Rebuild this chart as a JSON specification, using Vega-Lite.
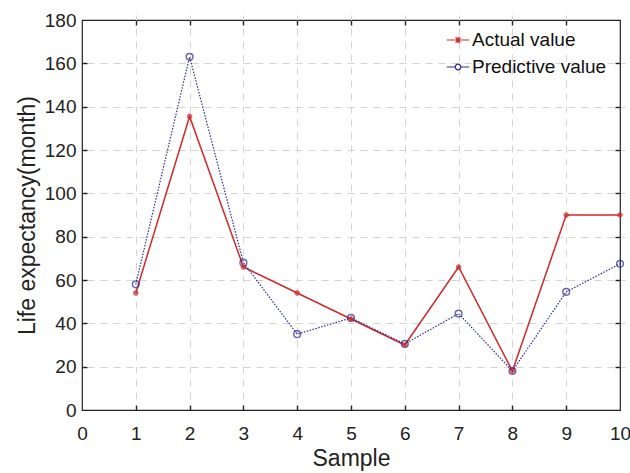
{
  "$schema": "https://vega.github.io/schema/vega-lite/v6.json",
  "width": 538,
  "height": 390,
  "autosize": {"type": "none"},
  "padding": {"left": 82, "top": 20, "right": 10, "bottom": 63},
  "background": "white",
  "config": {
    "view": {"stroke": "#222", "strokeWidth": 1.2},
    "font": "Liberation Sans",
    "axis": {
      "labelFont": "Liberation Sans",
      "titleFont": "Liberation Sans",
      "labelFontSize": 19,
      "titleFontSize": 23,
      "titleFontWeight": "normal",
      "labelColor": "#222",
      "titleColor": "#222",
      "domain": false,
      "tickColor": "#222",
      "tickWidth": 1.4,
      "tickSize": 5,
      "offset": -5,
      "labelFlush": false,
      "gridColor": "#d4d4d4",
      "gridDash": [7, 6],
      "gridWidth": 1
    }
  },
  "data": {
    "values": [
      {"sample": 1, "value": 54, "series": "Actual value"},
      {"sample": 2, "value": 135.5, "series": "Actual value"},
      {"sample": 3, "value": 66, "series": "Actual value"},
      {"sample": 4, "value": 54, "series": "Actual value"},
      {"sample": 5, "value": 42, "series": "Actual value"},
      {"sample": 6, "value": 30, "series": "Actual value"},
      {"sample": 7, "value": 66, "series": "Actual value"},
      {"sample": 8, "value": 18, "series": "Actual value"},
      {"sample": 9, "value": 90, "series": "Actual value"},
      {"sample": 10, "value": 90, "series": "Actual value"},
      {"sample": 1, "value": 58, "series": "Predictive value"},
      {"sample": 2, "value": 163, "series": "Predictive value"},
      {"sample": 3, "value": 68, "series": "Predictive value"},
      {"sample": 4, "value": 35, "series": "Predictive value"},
      {"sample": 5, "value": 42.5, "series": "Predictive value"},
      {"sample": 6, "value": 30.5, "series": "Predictive value"},
      {"sample": 7, "value": 44.5, "series": "Predictive value"},
      {"sample": 8, "value": 18, "series": "Predictive value"},
      {"sample": 9, "value": 54.5, "series": "Predictive value"},
      {"sample": 10, "value": 67.5, "series": "Predictive value"}
    ]
  },
  "resolve": {"axis": {"x": "independent", "y": "independent"}},
  "layer": [
    {
      "transform": [{"filter": "datum.series === 'Actual value'"}],
      "mark": {"type": "line", "strokeWidth": 1.5},
      "encoding": {
        "x": {"field": "sample", "type": "quantitative", "scale": {"domain": [0, 10]},
              "axis": {"title": "Sample", "grid": true, "values": [0,1,2,3,4,5,6,7,8,9,10], "labelPadding": 14, "titlePadding": 4,
                       "gridOpacity": {"condition": {"test": "datum.value === 0 || datum.value === 10", "value": 0}, "value": 1},
                       "tickOpacity": {"condition": {"test": "datum.value === 0 || datum.value === 10", "value": 0}, "value": 1}}},
        "y": {"field": "value", "type": "quantitative", "scale": {"domain": [0, 180]},
              "axis": {"title": "Life expectancy(month)", "grid": true, "values": [0,20,40,60,80,100,120,140,160,180], "labelPadding": 6, "titlePadding": 5,
                       "gridOpacity": {"condition": {"test": "datum.value === 0 || datum.value === 180", "value": 0}, "value": 1},
                       "tickOpacity": {"condition": {"test": "datum.value === 0 || datum.value === 180", "value": 0}, "value": 1}}},
        "color": {"field": "series", "type": "nominal",
                  "scale": {"domain": ["Actual value", "Predictive value"], "range": ["#cf2a2a", "#2a2a92"]},
                  "legend": {"title": null, "orient": "none", "legendX": 364, "legendY": 8,
                             "labelFontSize": 19, "labelFont": "Liberation Sans", "labelColor": "#111",
                             "symbolSize": 500, "symbolStrokeWidth": 1.2, "rowPadding": 5, "labelOffset": 2,
                             "encode": {"symbols": {"update": {
                               "shape": {"signal": "datum.value === 'Actual value' ? 'M-1,0L1,0M-0.3,0L0.3,0M0,-0.3L0,0.3M-0.22,-0.22L0.22,0.22M-0.22,0.22L0.22,-0.22' : 'M-1,0L-0.25,0M0.25,0L1,0M0.25,0A0.25,0.25 0 1 1 -0.25,0A0.25,0.25 0 1 1 0.25,0'"},
                               "fill": {"value": "transparent"}
                             }}}}}
      }
    },
    {
      "transform": [{"filter": "datum.series === 'Predictive value'"}],
      "mark": {"type": "line", "strokeWidth": 1.2, "strokeDash": [1.5, 1.5]},
      "encoding": {
        "x": {"field": "sample", "type": "quantitative", "axis": null},
        "y": {"field": "value", "type": "quantitative", "axis": null},
        "color": {"field": "series", "type": "nominal"}
      }
    },
    {
      "transform": [{"filter": "datum.series === 'Predictive value'"}],
      "mark": {"type": "point", "filled": false, "shape": "circle", "size": 45, "strokeWidth": 1.5},
      "encoding": {
        "x": {"field": "sample", "type": "quantitative", "axis": null},
        "y": {"field": "value", "type": "quantitative", "axis": null},
        "color": {"field": "series", "type": "nominal"}
      }
    },
    {
      "transform": [{"filter": "datum.series === 'Actual value'"}],
      "mark": {"type": "point", "filled": false, "shape": "M-1,0L1,0M0,-1L0,1M-0.7,-0.7L0.7,0.7M-0.7,0.7L0.7,-0.7", "size": 30, "strokeWidth": 2},
      "encoding": {
        "x": {"field": "sample", "type": "quantitative", "axis": null},
        "y": {"field": "value", "type": "quantitative", "axis": null},
        "color": {"field": "series", "type": "nominal"}
      }
    },
    {
      "mark": {"type": "point", "opacity": 0},
      "encoding": {
        "x": {"field": "sample", "type": "quantitative",
              "axis": {"orient": "top", "labels": false, "grid": false, "title": null, "values": [1,2,3,4,5,6,7,8,9]}},
        "y": {"field": "value", "type": "quantitative",
              "axis": {"orient": "right", "labels": false, "grid": false, "title": null, "values": [20,40,60,80,100,120,140,160]}}
      }
    }
  ]
}
